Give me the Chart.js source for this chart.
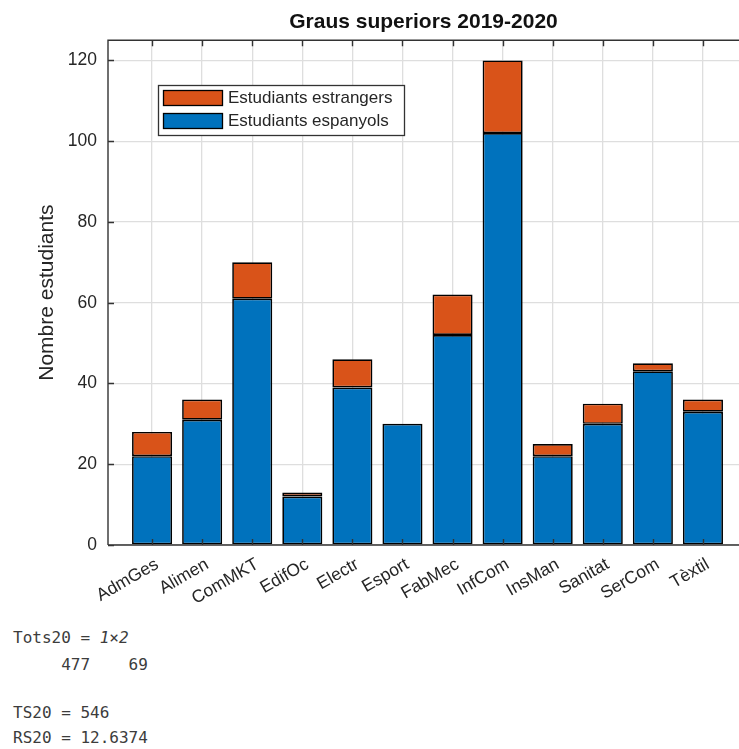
<!DOCTYPE html>
<html>
<head>
<meta charset="utf-8">
<script src="https://cdn.jsdelivr.net/npm/chart.js@4"></script>
<style>
  body { margin: 0; background: #fff; width: 739px; height: 749px; overflow: hidden; position: relative; }
  #wrap { position: absolute; left: 0; top: 0; width: 739px; height: 612px; }
  .out { position: absolute; left: 13px; margin: 0; white-space: pre; font-family: "DejaVu Sans Mono", monospace; font-size: 16px; line-height: 20px; color: #3c3c3c; }
</style>
</head>
<body>
<div id="wrap"><canvas id="chart" width="739" height="612"></canvas></div>
<div class="out" style="top:628px">Tots20 = <i>1×2</i></div>
<div class="out" style="top:655px">     477    69</div>
<div class="out" style="top:703px">TS20 = 546</div>
<div class="out" style="top:728px">RS20 = 12.6374</div>
<script>
const categories = ["AdmGes", "Alimen", "ComMKT", "EdifOc", "Electr", "Esport", "FabMec", "InfCom", "InsMan", "Sanitat", "SerCom", "Tèxtil"]
const espanyols = [22, 31, 61, 12, 39, 30, 52, 102, 22, 30, 43, 33]
const estrangers = [6, 5, 9, 1, 7, 0, 10, 18, 3, 5, 2, 3]
const yTicks = [0, 20, 40, 60, 80, 100, 120]

const blue = "#0072BD"
const orange = "#D95319"
const ink = "#262626"

Chart.defaults.font.family = "'Liberation Sans', Arial, sans-serif"

function toPoints(values) {
  return values.map((v, i) => ({ x: i + 1, y: v }))
}

// MATLAB-ish box: axes lines and inward tick marks
const axesBox = {
  id: "axesBox",
  afterDatasetsDraw(chart) {
    const { ctx, chartArea: a, scales } = chart
    ctx.save()
    ctx.strokeStyle = "#333"
    ctx.lineWidth = 1.4
    ctx.beginPath()
    ctx.moveTo(a.left, a.bottom)
    ctx.lineTo(a.left, a.top)
    ctx.lineTo(a.right + 2, a.top)
    ctx.moveTo(a.left, a.bottom)
    ctx.lineTo(a.right + 2, a.bottom)
    yTicks.forEach((v) => {
      const y = Math.round(scales.y.getPixelForValue(v)) + 0.5
      ctx.moveTo(a.left, y)
      ctx.lineTo(a.left + 6, y)
    })
    categories.forEach((c, i) => {
      const x = Math.round(scales.x.getPixelForValue(i + 1)) + 0.5
      ctx.moveTo(x, a.bottom)
      ctx.lineTo(x, a.bottom - 6)
      ctx.moveTo(x, a.top)
      ctx.lineTo(x, a.top + 6)
    })
    ctx.stroke()
    ctx.restore()
  },
}

const boxLegend = {
  id: "boxLegend",
  afterDraw(chart) {
    const ctx = chart.ctx
    const items = [
      { text: "Estudiants estrangers", color: orange },
      { text: "Estudiants espanyols", color: blue },
    ]
    ctx.save()
    ctx.fillStyle = "#fff"
    ctx.fillRect(158.5, 85.5, 246, 50)
    ctx.strokeStyle = "#333"
    ctx.lineWidth = 1.3
    ctx.strokeRect(158.5, 85.5, 246, 50)
    ctx.font = "17px 'Liberation Sans', Arial, sans-serif"
    ctx.textBaseline = "middle"
    items.forEach((it, i) => {
      const y = 90.5 + i * 23
      ctx.fillStyle = it.color
      ctx.fillRect(163.5, y, 59, 15)
      ctx.strokeStyle = "#000"
      ctx.strokeRect(163.5, y, 59, 15)
      ctx.fillStyle = ink
      ctx.fillText(it.text, 228, y + 8)
    })
    ctx.restore()
  },
}

const config = {
  type: "bar",
  data: {
    datasets: [
      {
        label: "Estudiants espanyols",
        data: toPoints(espanyols),
        backgroundColor: blue,
        borderColor: "#000",
        borderWidth: 1.7,
        borderSkipped: false,
        barPercentage: 0.8,
        categoryPercentage: 1,
      },
      {
        label: "Estudiants estrangers",
        data: toPoints(estrangers),
        backgroundColor: orange,
        borderColor: "#000",
        borderWidth: 1.7,
        borderSkipped: false,
        barPercentage: 0.8,
        categoryPercentage: 1,
      },
    ],
  },
  options: {
    responsive: false,
    animation: false,
    layout: { padding: 0 },
    scales: {
      x: {
        type: "linear",
        stacked: true,
        offset: false,
        min: 0.12,
        max: 12.72,
        afterBuildTicks: (s) => {
          s.ticks = categories.map((c, i) => ({ value: i + 1 }))
        },
        afterFit: (s) => {
          s.height = 67
        },
        grid: { color: "#dedede", lineWidth: 1.3, drawTicks: false, offset: false },
        border: { display: false },
        ticks: {
          autoSkip: false,
          maxRotation: 30,
          minRotation: 30,
          padding: 9,
          labelOffset: 5,
          color: ink,
          font: { size: 17.5 },
          callback: (v) => categories[Math.round(v) - 1],
        },
      },
      y: {
        stacked: true,
        min: 0,
        max: 125,
        afterBuildTicks: (s) => {
          s.ticks = yTicks.map((v) => ({ value: v }))
        },
        afterFit: (s) => {
          s.width = 108
        },
        grid: { color: "#dedede", lineWidth: 1.3, drawTicks: false },
        border: { display: false },
        ticks: { padding: 11, color: ink, font: { size: 17.5 } },
        title: {
          display: true,
          text: "Nombre estudiants",
          color: ink,
          font: { size: 21 },
          padding: { top: 35, bottom: 0 },
        },
      },
    },
    plugins: {
      legend: { display: false },
      tooltip: { enabled: false },
      title: {
        display: true,
        text: "Graus superiors 2019-2020",
        fullSize: false,
        color: "#111",
        font: { size: 21, weight: "bold" },
        padding: { top: 10, bottom: 5 },
      },
    },
  },
  plugins: [axesBox, boxLegend],
}

const chart = new Chart(document.getElementById("chart"), config)
</script>
</body>
</html>
